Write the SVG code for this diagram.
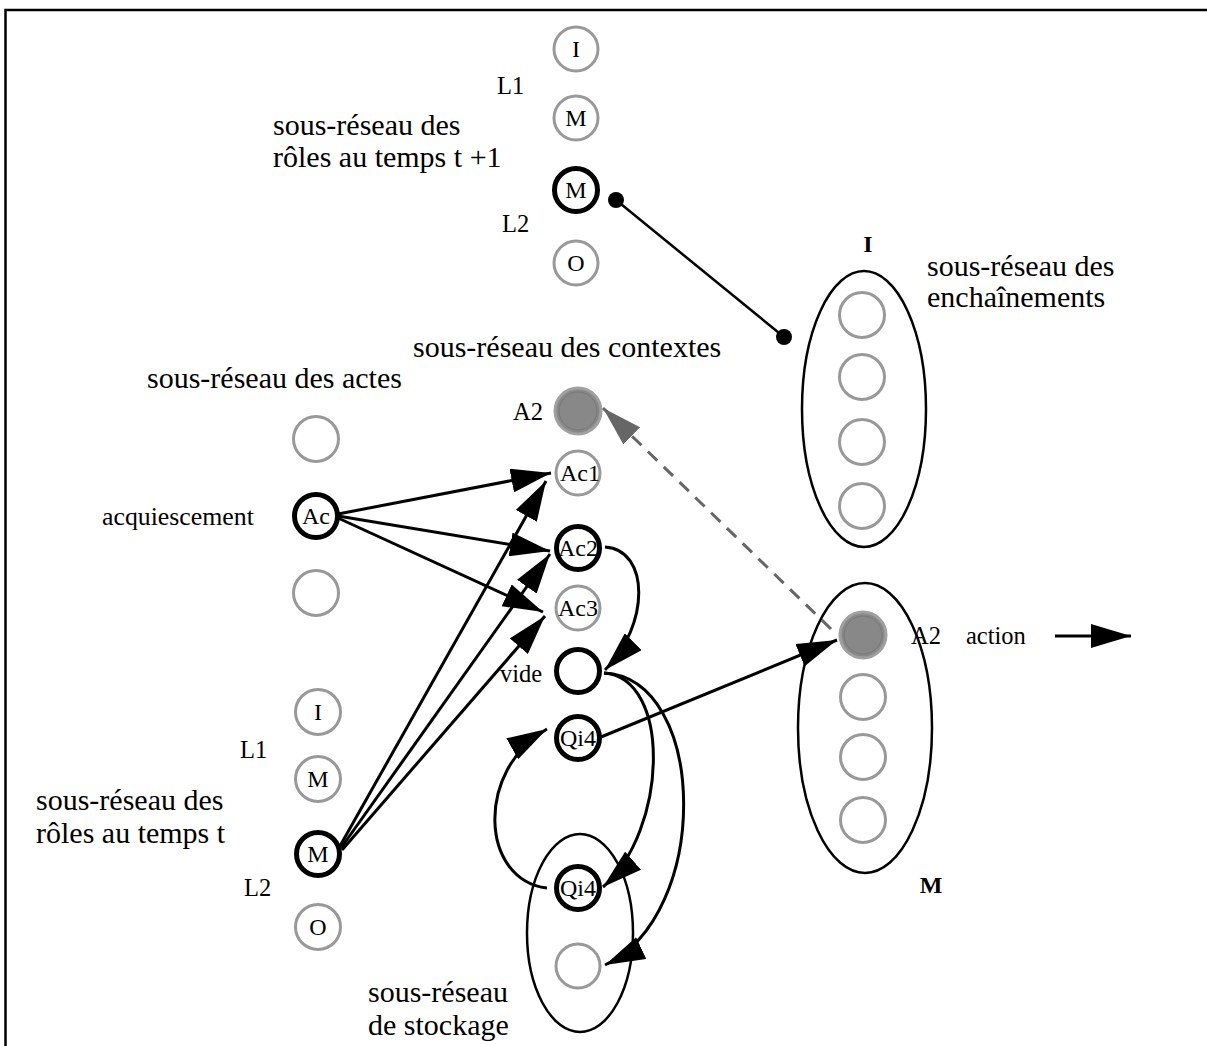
<svg xmlns="http://www.w3.org/2000/svg" width="1207" height="1046" viewBox="0 0 1207 1046">
  <style>
    text { font-family: "Liberation Serif", "Times New Roman", serif; fill: #000; }
    .big { font-size: 30px; }
    .small { font-size: 24.5px; }
    .lbl { font-size: 24px; text-anchor: middle; }
    .bold { font-size: 24px; font-weight: bold; text-anchor: middle; }
    .gray { fill: #fff; stroke: #999; stroke-width: 3; }
    .strong { fill: #fff; stroke: #000; stroke-width: 5; }
    .filled { fill: #888; stroke: #a0a0a0; stroke-width: 3; }
    .inner { fill: none; stroke: #777; stroke-width: 1; }
    .group { fill: none; stroke: #000; stroke-width: 2.5; }
    .edge { fill: none; stroke: #000; stroke-width: 3; marker-end: url(#head); }
    .dash { fill: none; stroke: #666; stroke-width: 3; stroke-dasharray: 13 9; marker-end: url(#headGray); }
  </style>
  <defs>
    <marker id="head" markerUnits="userSpaceOnUse" markerWidth="40" markerHeight="24" viewBox="0 0 40 24" refX="40" refY="12" orient="auto">
      <path d="M0,0 L40,12 L0,24 z" fill="#000"/>
    </marker>
    <marker id="headGray" markerUnits="userSpaceOnUse" markerWidth="40" markerHeight="24" viewBox="0 0 40 24" refX="40" refY="12" orient="auto">
      <path d="M0,0 L40,12 L0,24 z" fill="#666"/>
    </marker>
  </defs>

  <rect x="0" y="0" width="1207" height="1046" fill="#fff"/>
  <!-- frame (right and bottom sides fall outside the canvas) -->
  <rect x="5.5" y="10" width="1260" height="1100" fill="none" stroke="#000" stroke-width="2.5"/>

  <!-- roles sub-network at time t+1 -->
  <g id="roles-t1">
    <text class="big" x="273" y="135">sous-réseau des</text>
    <text class="big" x="273" y="167">rôles au temps t +1</text>
    <text class="small" x="497" y="94">L1</text>
    <text class="small" x="502" y="232">L2</text>
    <circle class="gray" cx="576" cy="49" r="22"/>
    <text class="lbl" x="576" y="57">I</text>
    <circle class="gray" cx="576" cy="118" r="22"/>
    <text class="lbl" x="576" y="126">M</text>
    <circle class="strong" cx="576" cy="190" r="21.5"/>
    <text class="lbl" x="576" y="198">M</text>
    <circle class="gray" cx="576" cy="263" r="22"/>
    <text class="lbl" x="576" y="271">O</text>
  </g>

  <!-- chaining sub-network (I) -->
  <g id="chain-I">
    <text class="bold" x="868" y="252">I</text>
    <text class="big" x="927" y="276">sous-réseau des</text>
    <text class="big" x="927" y="307">enchaînements</text>
    <ellipse class="group" cx="864" cy="409" rx="62" ry="138"/>
    <circle class="gray" cx="862" cy="315" r="22.5"/>
    <circle class="gray" cx="862" cy="377" r="22.5"/>
    <circle class="gray" cx="862" cy="442" r="22.5"/>
    <circle class="gray" cx="862" cy="506" r="22.5"/>
  </g>

  <!-- chaining sub-network (M) -->
  <g id="chain-M">
    <ellipse class="group" cx="865" cy="728" rx="67" ry="145"/>
    <circle class="filled" cx="863" cy="635" r="23"/>
    <circle class="inner" cx="863" cy="635" r="19"/>
    <circle class="gray" cx="863" cy="697" r="22.5"/>
    <circle class="gray" cx="863" cy="757" r="22.5"/>
    <circle class="gray" cx="863" cy="820" r="22.5"/>
    <text class="small" x="911" y="644">A2</text>
    <text class="small" x="966" y="644">action</text>
    <text class="bold" x="931" y="893">M</text>
  </g>

  <!-- contexts sub-network -->
  <g id="contexts">
    <text class="big" x="413" y="357">sous-réseau des contextes</text>
    <text class="small" x="513" y="420">A2</text>
    <circle class="filled" cx="578" cy="411" r="23"/>
    <circle class="inner" cx="578" cy="411" r="19"/>
    <circle class="gray" cx="578" cy="473" r="22"/>
    <text class="lbl" x="580" y="481">Ac1</text>
    <circle class="strong" cx="578" cy="548" r="21.5"/>
    <text class="lbl" x="578" y="556">Ac2</text>
    <circle class="gray" cx="578" cy="608" r="22"/>
    <text class="lbl" x="578" y="616">Ac3</text>
    <circle class="strong" cx="578" cy="671" r="21.5"/>
    <text class="small" x="500" y="682">vide</text>
    <circle class="strong" cx="578" cy="738" r="21.5"/>
    <text class="lbl" x="578" y="746">Qi4</text>
  </g>

  <!-- storage sub-network -->
  <g id="storage">
    <ellipse class="group" cx="580" cy="933" rx="53" ry="99"/>
    <circle class="strong" cx="578" cy="888" r="21.5"/>
    <text class="lbl" x="578" y="896">Qi4</text>
    <circle class="gray" cx="578" cy="966" r="22"/>
    <text class="big" x="368" y="1002">sous-réseau</text>
    <text class="big" x="368" y="1035">de stockage</text>
  </g>

  <!-- acts sub-network -->
  <g id="acts">
    <text class="big" x="147" y="388">sous-réseau des actes</text>
    <circle class="gray" cx="316" cy="439" r="22.5"/>
    <circle class="strong" cx="316" cy="516" r="21.5"/>
    <text class="lbl" x="316" y="524">Ac</text>
    <text class="small" x="102" y="525" style="font-size:25.8px">acquiescement</text>
    <circle class="gray" cx="316" cy="593" r="22.5"/>
  </g>

  <!-- roles sub-network at time t -->
  <g id="roles-t">
    <text class="big" x="36" y="810">sous-réseau des</text>
    <text class="big" x="36" y="843">rôles au temps t</text>
    <text class="small" x="240" y="758">L1</text>
    <text class="small" x="244" y="896">L2</text>
    <circle class="gray" cx="318" cy="712" r="22.5"/>
    <text class="lbl" x="318" y="720">I</text>
    <circle class="gray" cx="318" cy="779" r="22.5"/>
    <text class="lbl" x="318" y="787">M</text>
    <circle class="strong" cx="318" cy="854" r="21.5"/>
    <text class="lbl" x="318" y="862">M</text>
    <circle class="gray" cx="318" cy="927" r="22.5"/>
    <text class="lbl" x="318" y="935">O</text>
  </g>

  <!-- connectors -->
  <g id="connectors">
    <!-- link between the role M at t+1 and the chaining network -->
    <line x1="616" y1="200" x2="784" y2="337" stroke="#000" stroke-width="2.5"/>
    <circle cx="616" cy="200" r="8" fill="#000"/>
    <circle cx="784" cy="337" r="8" fill="#000"/>

    <!-- acte Ac to contexts -->
    <path class="edge" d="M338,514 L551,473"/>
    <path class="edge" d="M338,516 L550,551"/>
    <path class="edge" d="M338,518 L543,612"/>

    <!-- role M to contexts -->
    <path class="edge" d="M340,846 L546,481"/>
    <path class="edge" d="M341,848 L550,554"/>
    <path class="edge" d="M342,850 L545,616"/>

    <!-- Ac2 to vide -->
    <path class="edge" d="M605,547 C650,550 650,625 605,670"/>

    <!-- vide to storage -->
    <path class="edge" d="M604,673 C672,678 668,830 603,887"/>
    <path class="edge" d="M604,673 C708,678 712,915 605,965"/>

    <!-- storage Qi4 back to contexts Qi4 -->
    <path class="edge" d="M547,888 C480,880 475,770 547,729"/>

    <!-- Qi4 to action A2 -->
    <path class="edge" d="M601,737 L837,640"/>

    <!-- action A2 back to context A2 (dashed) -->
    <path class="dash" d="M831,629 L603,408"/>

    <!-- outgoing action -->
    <path class="edge" d="M1055,636 L1131,636"/>
  </g>
</svg>
